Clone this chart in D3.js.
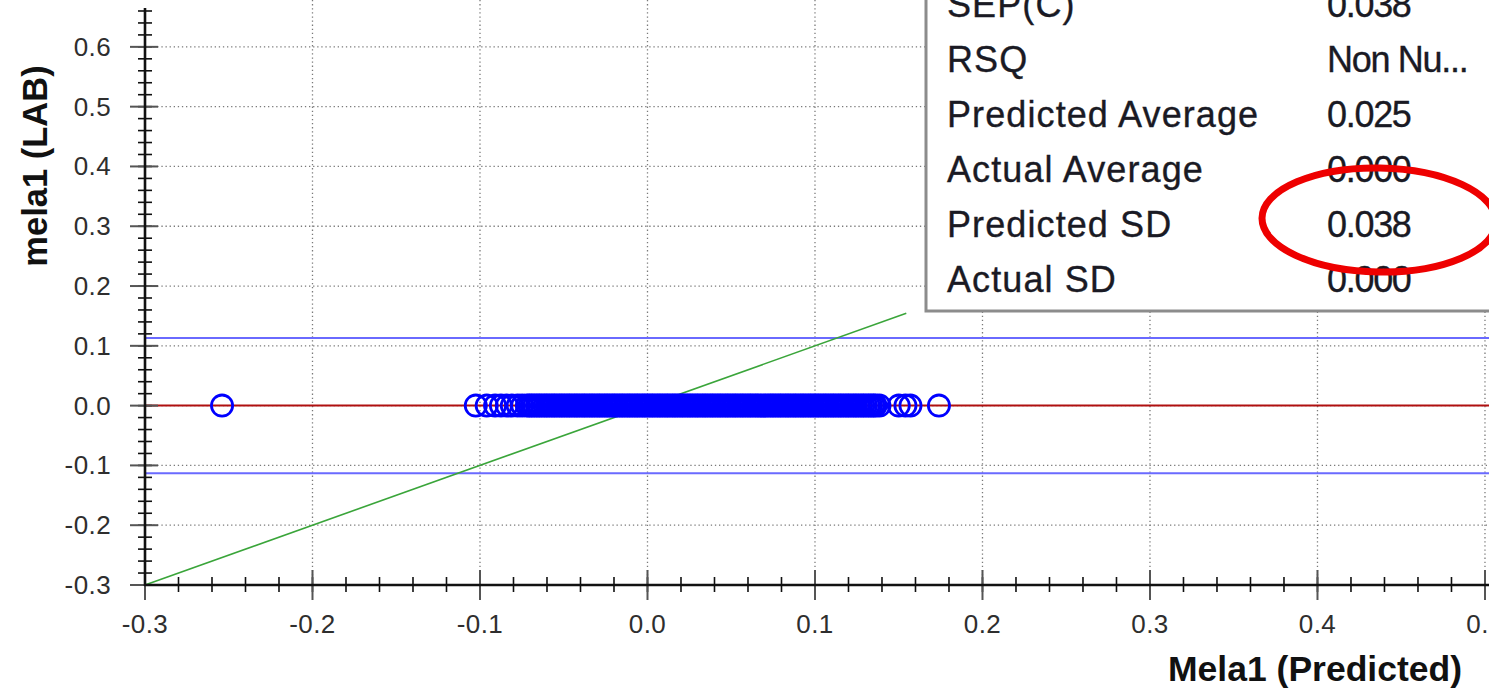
<!DOCTYPE html>
<html>
<head>
<meta charset="utf-8">
<script src="https://cdn.jsdelivr.net/npm/d3@7"></script>
<style>
  html, body { margin: 0; padding: 0; background: #fff; }
  svg { display: block; }
</style>
</head>
<body>
<svg id="chart" width="1489" height="693"></svg>
<script>
// ---- data ----
const xTickValues = [-0.3, -0.2, -0.1, 0.0, 0.1, 0.2, 0.3, 0.4, 0.5];
const xTickLabels = ["-0.3", "-0.2", "-0.1", "0.0", "0.1", "0.2", "0.3", "0.4", "0.5"];
const yTickValues = [-0.3, -0.2, -0.1, 0.0, 0.1, 0.2, 0.3, 0.4, 0.5, 0.6];
const yTickLabels = ["-0.3", "-0.2", "-0.1", "0.0", "0.1", "0.2", "0.3", "0.4", "0.5", "0.6"];

// predicted values (x) of the samples
const predicted = [
  -0.254,
  -0.1025, -0.0960, -0.0910, -0.0875, -0.0840, -0.0810, -0.0775, -0.0748,
  -0.0720, -0.0705, -0.0691, -0.0676, -0.0660, -0.0646, -0.0631, -0.0615, -0.0601, -0.0586,
  -0.0570, -0.0556, -0.0541, -0.0525, -0.0511, -0.0496, -0.0480, -0.0466, -0.0451, -0.0435,
  -0.0421, -0.0406, -0.0390, -0.0376, -0.0361, -0.0345, -0.0331, -0.0316, -0.0300, -0.0286,
  -0.0271, -0.0255, -0.0241, -0.0226, -0.0210, -0.0196, -0.0181, -0.0165, -0.0151, -0.0136,
  -0.0120, -0.0106, -0.0091, -0.0075, -0.0061, -0.0046, -0.0030, -0.0016, -0.0001, 0.0015,
  0.0029, 0.0044, 0.0060, 0.0074, 0.0089, 0.0105, 0.0119, 0.0134, 0.0150, 0.0164,
  0.0179, 0.0195, 0.0209, 0.0224, 0.0240, 0.0254, 0.0269, 0.0285, 0.0299, 0.0314,
  0.0330, 0.0344, 0.0359, 0.0375, 0.0389, 0.0404, 0.0420, 0.0434, 0.0449, 0.0465,
  0.0479, 0.0494, 0.0510, 0.0524, 0.0539, 0.0555, 0.0569, 0.0584, 0.0600, 0.0614,
  0.0629, 0.0645, 0.0659, 0.0674, 0.0690, 0.0704, 0.0719, 0.0735, 0.0749, 0.0764,
  0.0780, 0.0794, 0.0809, 0.0825, 0.0839, 0.0854, 0.0870, 0.0884, 0.0899, 0.0915,
  0.0929, 0.0944, 0.0960, 0.0974, 0.0989, 0.1005, 0.1019, 0.1034, 0.1050, 0.1064,
  0.1079, 0.1095, 0.1109, 0.1124, 0.1140, 0.1154, 0.1169, 0.1185, 0.1199, 0.1214,
  0.1230, 0.1244, 0.1259, 0.1275, 0.1289, 0.1304, 0.1320, 0.1334, 0.1349, 0.1362,
  0.1385, 0.1500, 0.1540, 0.1570, 0.1740
];
// lab (actual) values (y) of the same samples
const actual = [
  0,
  0, 0, 0, 0, 0, 0, 0, 0,
  0, 0, 0, 0, 0, 0, 0, 0, 0, 0,
  0, 0, 0, 0, 0, 0, 0, 0, 0, 0,
  0, 0, 0, 0, 0, 0, 0, 0, 0, 0,
  0, 0, 0, 0, 0, 0, 0, 0, 0, 0,
  0, 0, 0, 0, 0, 0, 0, 0, 0, 0,
  0, 0, 0, 0, 0, 0, 0, 0, 0, 0,
  0, 0, 0, 0, 0, 0, 0, 0, 0, 0,
  0, 0, 0, 0, 0, 0, 0, 0, 0, 0,
  0, 0, 0, 0, 0, 0, 0, 0, 0, 0,
  0, 0, 0, 0, 0, 0, 0, 0, 0, 0,
  0, 0, 0, 0, 0, 0, 0, 0, 0, 0,
  0, 0, 0, 0, 0, 0, 0, 0, 0, 0,
  0, 0, 0, 0, 0, 0, 0, 0, 0, 0,
  0, 0, 0, 0, 0, 0, 0, 0, 0, 0,
  0, 0, 0, 0, 0
];
const actualAverage = 0.0;
const limitOffset = 0.113;
const identityLine = [[-0.3, -0.3], [0.1545, 0.1545]];

const statLabels = ["SEP(C)", "RSQ", "Predicted Average", "Actual Average", "Predicted SD", "Actual SD"];
const statValues = ["0.038", "Non Nu...", "0.025", "0.000", "0.038", "0.000"];
const highlightRow = 4;

const xTitle = "Mela1 (Predicted)";
const yTitle = "mela1 (LAB)";

// ---- drawing ----
const svg = d3.select("#chart");
const W = 1489, H = 693;
svg.append("rect").attr("width", W).attr("height", H).attr("fill", "#fff");

const x = d3.scaleLinear().domain([-0.3, 0.5024]).range([145, 1489]);
const y = d3.scaleLinear().domain([-0.3, 0.665]).range([585, 8]);

const x0 = x(-0.3), x1 = x.range()[1];
const y0 = y(-0.3), y1 = y.range()[1];

// grid
const grid = svg.append("g");
grid.selectAll("line.vg").data(xTickValues.filter(v => v > -0.3))
  .join("line")
  .attr("x1", d => x(d)).attr("x2", d => x(d))
  .attr("y1", 0).attr("y2", y0)
  .attr("stroke", "#7a7a7a").attr("stroke-width", 1.3)
  .attr("stroke-dasharray", "1.3,2.8");
grid.selectAll("line.hg").data(yTickValues.filter(v => v > -0.3))
  .join("line")
  .attr("x1", x0).attr("x2", x1)
  .attr("y1", d => y(d)).attr("y2", d => y(d))
  .attr("stroke", "#7a7a7a").attr("stroke-width", 1.3)
  .attr("stroke-dasharray", "1.3,2.8");

// limit lines
const limits = svg.append("g");
limits.selectAll("line").data([actualAverage + limitOffset, actualAverage - limitOffset])
  .join("line")
  .attr("x1", x0).attr("x2", x1)
  .attr("y1", d => y(d)).attr("y2", d => y(d))
  .attr("stroke", "#6a6aff").attr("stroke-width", 2);

// identity line
svg.append("path")
  .attr("d", d3.line().x(d => x(d[0])).y(d => y(d[1]))(identityLine))
  .attr("stroke", "#3aa53a").attr("stroke-width", 1.6).attr("fill", "none");

// average line
svg.append("line")
  .attr("x1", x0).attr("x2", x1)
  .attr("y1", y(actualAverage)).attr("y2", y(actualAverage))
  .attr("stroke", "#b01010").attr("stroke-width", 2);

// points
svg.append("g").selectAll("circle")
  .data(predicted.map((p, i) => [p, actual[i]]))
  .join("circle")
  .attr("cx", d => x(d[0])).attr("cy", d => y(d[1]))
  .attr("r", 10.6)
  .attr("fill", "none")
  .attr("stroke", "#0000ff").attr("stroke-width", 2.8);

// axes
const axes = svg.append("g");
const yMinor = d3.range(-0.3, 0.6601, 0.02);
const xMinor = d3.range(-0.3, 0.5001, 0.02);
axes.selectAll("line.ym").data(yMinor).join("line")
  .attr("x1", x0 - 7).attr("x2", x0 + 7)
  .attr("y1", d => y(d)).attr("y2", d => y(d))
  .attr("stroke", "#111").attr("stroke-width", 1.6);
axes.selectAll("line.yM").data(yTickValues).join("line")
  .attr("x1", x0 - 15).attr("x2", x0 + 13)
  .attr("y1", d => y(d)).attr("y2", d => y(d))
  .attr("stroke", "#555").attr("stroke-width", 2);
axes.selectAll("line.xm").data(xMinor).join("line")
  .attr("y1", y0 - 8).attr("y2", y0 + 7)
  .attr("x1", d => x(d)).attr("x2", d => x(d))
  .attr("stroke", "#111").attr("stroke-width", 1.6);
axes.selectAll("line.xM").data(xTickValues).join("line")
  .attr("y1", y0 - 15).attr("y2", y0 + 15)
  .attr("x1", d => x(d)).attr("x2", d => x(d))
  .attr("stroke", "#555").attr("stroke-width", 2);
axes.append("line").attr("x1", x0).attr("x2", x0).attr("y1", y1).attr("y2", y0 + 1)
  .attr("stroke", "#111").attr("stroke-width", 2.6);
axes.append("line").attr("x1", x0 - 1).attr("x2", x1).attr("y1", y0).attr("y2", y0)
  .attr("stroke", "#111").attr("stroke-width", 2.6);

// tick labels
const tickFont = "'Liberation Sans', Arial, sans-serif";
axes.selectAll("text.yl").data(yTickValues).join("text")
  .attr("x", x0 - 34).attr("y", d => y(d) + 9)
  .attr("text-anchor", "end")
  .attr("font-family", tickFont).attr("font-size", 26)
  .attr("letter-spacing", 0.4)
  .attr("fill", "#2e2e2e")
  .text((d, i) => yTickLabels[i]);
axes.selectAll("text.xl").data(xTickValues).join("text")
  .attr("x", d => x(d)).attr("y", 633)
  .attr("text-anchor", "middle")
  .attr("font-family", tickFont).attr("font-size", 26)
  .attr("letter-spacing", 0.4)
  .attr("fill", "#2e2e2e")
  .text((d, i) => xTickLabels[i]);

// axis titles
svg.append("text")
  .attr("x", 1462).attr("y", 681)
  .attr("text-anchor", "end")
  .attr("font-family", tickFont).attr("font-weight", "bold").attr("font-size", 35.5)
  .attr("fill", "#111")
  .text(xTitle);
svg.append("text")
  .attr("transform", "translate(47,166) rotate(-90)")
  .attr("text-anchor", "middle")
  .attr("font-family", tickFont).attr("font-weight", "bold").attr("font-size", 34.5)
  .attr("fill", "#111")
  .text(yTitle);

// stats box
const box = svg.append("g");
box.append("rect")
  .attr("x", 926).attr("y", -10).attr("width", 600).attr("height", 321)
  .attr("fill", "#fff").attr("stroke", "#8c8c8c").attr("stroke-width", 3);
const rowY = d3.scaleLinear().domain([0, 1]).range([17, 72]);
box.selectAll("text.lab").data(statLabels).join("text")
  .attr("x", 947).attr("y", (d, i) => rowY(i))
  .attr("font-family", tickFont).attr("font-size", 36)
  .attr("letter-spacing", 1.1)
  .attr("fill", "#1a1a24").attr("stroke", "#1a1a24").attr("stroke-width", 0.35)
  .text(d => d);
box.selectAll("text.val").data(statValues).join("text")
  .attr("x", 1327).attr("y", (d, i) => rowY(i))
  .attr("font-family", tickFont).attr("font-size", 36)
  .attr("letter-spacing", -1.3)
  .attr("fill", "#1a1a24").attr("stroke", "#1a1a24").attr("stroke-width", 0.35)
  .text(d => d);

// highlight ellipse
const ecx = 1379, ecy = rowY(highlightRow) - 17;
box.append("ellipse")
  .attr("cx", ecx).attr("cy", ecy)
  .attr("rx", 117).attr("ry", 52)
  .attr("transform", `rotate(1 ${ecx} ${ecy})`)
  .attr("fill", "none").attr("stroke", "#ee0000").attr("stroke-width", 7);
</script>
</body>
</html>
